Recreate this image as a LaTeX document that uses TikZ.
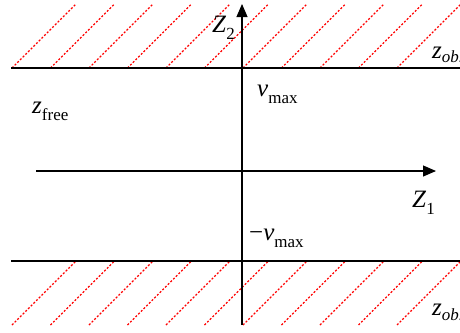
\documentclass[tikz,border=0pt]{standalone}
\usepackage{fontspec}
\setmainfont{Liberation Serif}
\usetikzlibrary{arrows.meta}
\newcommand{\lsub}[2][7pt]{\raisebox{-#1}{\fontsize{17}{18}\selectfont #2}}
\tikzset{
  axis/.style={line width=1.1pt,-{Triangle[length=13pt,width=11pt]}},
  bound/.style={line width=1.1pt},
  hatch/.style={red,line width=1.2pt,dash pattern=on 2pt off 1.8pt},
  lbl/.style={inner sep=0pt,anchor=base west,font=\fontsize{25}{28}\selectfont},
}

\begin{document}
\begin{tikzpicture}[x=1pt,y=-1pt]

\useasboundingbox (0,0) rectangle (460,332);
\clip (0,0) rectangle (460,332);

% obstacle regions
\foreach \x in {12,50.5,...,400}{
  \draw[hatch] (\x,68) -- ++(64,-64);
  \draw[hatch] (\x,325) -- ++(64,-64);
}

% boundaries
\coordinate (tl) at (11,68);
\coordinate (tr) at (460,68);
\coordinate (bl) at (11,261);
\coordinate (br) at (460,261);
\draw[bound] (tl) -- (tr);
\draw[bound] (bl) -- (br);

% axes
\coordinate (z1a) at (36,171);
\coordinate (z1b) at (436,171);
\coordinate (z2a) at (242,325);
\coordinate (z2b) at (242,4);
\draw[axis] (z1a) -- (z1b);
\draw[axis] (z2a) -- (z2b);

% labels
\node[lbl] (Z2) at (212,32) {\textit{Z}\lsub{2}};
\node[lbl] (Z1) at (412,207) {\textit{Z}\lsub{1}};
\node[lbl] (vmax) at (257,96) {\textit{v}\lsub{max}};
\node[lbl] (vmin) at (249,240) {−\textit{v}\lsub{max}};
\node[lbl] (zfree) at (32,113) {\textit{z}\lsub{free}};
\node[lbl] (zobt) at (432,58) {\textit{z}\lsub[4pt]{\textit{ob.}}};
\node[lbl] (zobb) at (432,315) {\textit{z}\lsub[5pt]{\textit{ob.}}};

\end{tikzpicture}
\end{document}
